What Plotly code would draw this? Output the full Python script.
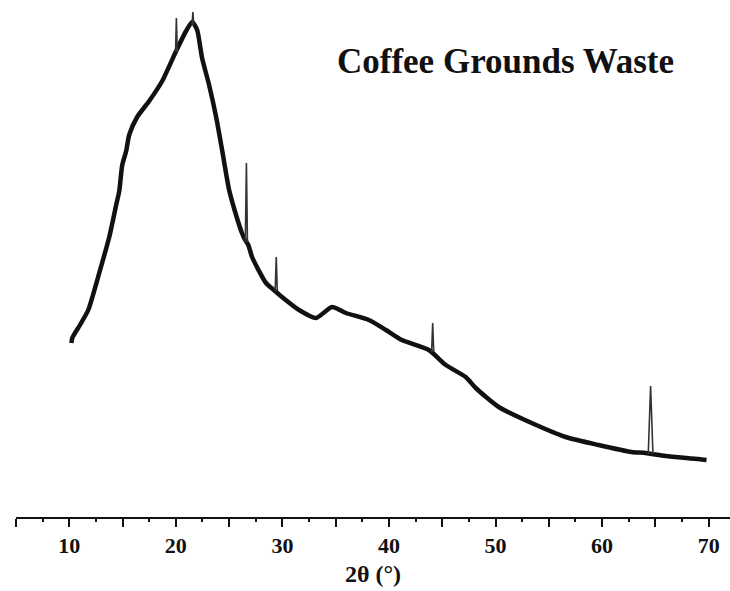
import plotly.graph_objects as go

# Diffraction curve (2theta in degrees, intensity in arbitrary units)
two_theta = [10.2, 10.28, 11.0, 11.78, 12.81, 13.75, 14.40, 14.69, 14.97, 15.34, 15.62,
             16.37, 17.50, 18.72, 20.03, 20.96, 21.53, 22.0, 22.46, 23.12, 23.78, 24.34,
             25.0, 25.65, 26.2, 26.5, 26.8, 27.15, 28.46, 29.2, 29.96, 31.56, 33.15,
             34.65, 35.96, 38.12, 39.71, 41.21, 43.74, 45.33, 47.2, 48.14, 50.3, 53.39,
             56.58, 59.67, 62.76, 64.07, 65.95, 69.05, 69.8]
intensity = [174, 179, 192, 207, 244, 280, 312, 326, 352, 366, 382,
             400, 416, 436, 466, 486, 495, 487, 459, 432, 400, 367,
             327, 302, 284, 277, 272, 260, 234, 227, 220, 207, 199,
             210, 204, 197, 187, 177, 167, 152, 140, 129, 110, 94,
             80, 72, 65, 64, 61, 58, 57]

# Sharp reflections
peak_pos = [20.05, 21.6, 26.62, 29.42, 44.1, 64.55]
peak_base = [465, 492, 275, 226, 165, 63]
peak_top = [499, 505, 354, 260, 194, 131]
peak_halfwidth = [0.08, 0.08, 0.1, 0.1, 0.1, 0.22]

tick_vals = [5, 10, 15, 20, 25, 30, 35, 40, 45, 50, 55, 60, 65, 70]
tick_text = ["", "10", "", "20", "", "30", "", "40", "", "50", "", "60", "", "70"]

sx, sy = [], []
for p, b, t, w in zip(peak_pos, peak_base, peak_top, peak_halfwidth):
    sx += [p - w, p, p + w, None]
    sy += [b, t, b, None]

fig = go.Figure()
fig.add_trace(go.Scatter(x=two_theta, y=intensity, mode="lines",
                         line=dict(color="#111111", width=4.5, shape="spline", smoothing=0.6),
                         showlegend=False, hoverinfo="skip"))
fig.add_trace(go.Scatter(x=sx, y=sy, mode="lines",
                         line=dict(color="#333333", width=1.6), showlegend=False,
                         hoverinfo="skip"))

serif = "Liberation Serif"
fig.update_layout(
    width=730, height=591,
    margin=dict(l=16, r=0, t=0, b=74),
    paper_bgcolor="white", plot_bgcolor="white",
    font=dict(family=serif, color="#111111"),
    xaxis=dict(range=[5, 72], showgrid=False, zeroline=False,
               showline=True, linecolor="#111111", linewidth=1.6,
               tickmode="array", tickvals=tick_vals, ticktext=tick_text,
               ticks="outside", ticklen=8, tickwidth=1.6, tickcolor="#111111",
               minor=dict(dtick=2.5, tick0=0, ticks="outside", ticklen=3,
                          tickwidth=1.5, tickcolor="#111111"),
               tickfont=dict(family=serif, size=22, weight="bold"),
               title=dict(text="2θ (°)", font=dict(family=serif, size=24, weight="bold"),
                          standoff=8)),
    yaxis=dict(range=[0, 517], visible=False),
    annotations=[dict(text="Coffee Grounds Waste", xref="paper", yref="paper",
                      x=0.686, y=0.882, xanchor="center", yanchor="middle",
                      showarrow=False,
                      font=dict(family=serif, size=35, weight="bold", color="#111111"))],
)

fig.write_html("out.html")
